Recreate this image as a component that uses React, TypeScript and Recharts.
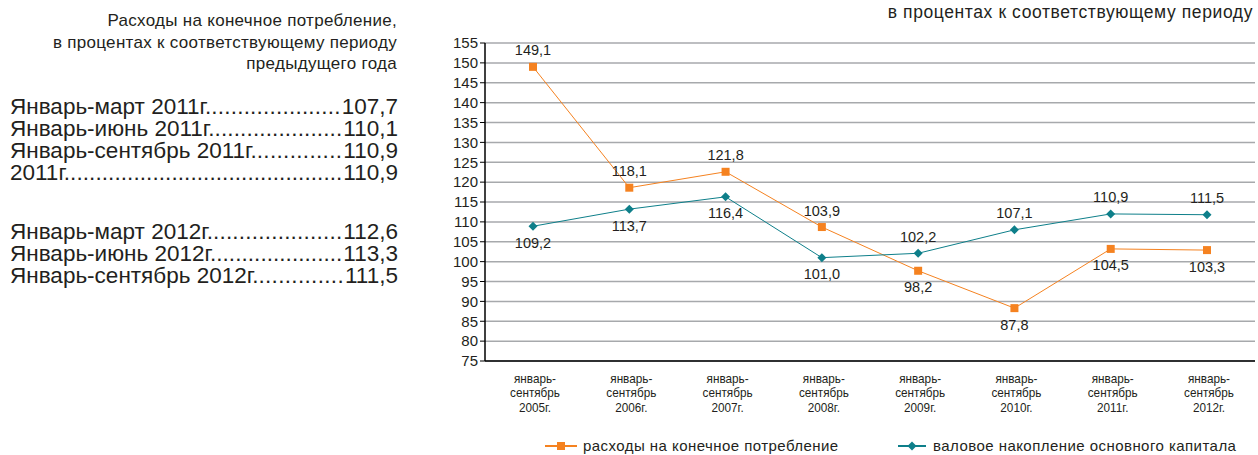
import { LineChart, Line, XAxis, YAxis, CartesianGrid, Legend, LabelList } from "recharts";

const periods = ["2005г.", "2006г.", "2007г.", "2008г.", "2009г.", "2010г.", "2011г.", "2012г."];
const consumption = [149.0, 118.6, 122.6, 108.7, 97.7, 88.3, 103.2, 102.9];
const investment = [108.9, 113.2, 116.3, 101.0, 102.1, 108.0, 112.0, 111.8];
const consumptionLabels = ["149,1", "118,1", "121,8", "103,9", "98,2", "87,8", "104,5", "103,3"];
const investmentLabels = ["109,2", "113,7", "116,4", "101,0", "102,2", "107,1", "110,9", "111,5"];
const consumptionAbove = [true, true, true, true, false, false, false, false];
const investmentAbove = [false, false, false, false, true, true, true, true];
const yTicks = [75, 80, 85, 90, 95, 100, 105, 110, 115, 120, 125, 130, 135, 140, 145, 150, 155];

const rows2011 = [
  ["Январь-март 2011г.", "107,7"],
  ["Январь-июнь 2011г.", "110,1"],
  ["Январь-сентябрь 2011г.", "110,9"],
  ["2011г.", "110,9"],
];
const rows2012 = [
  ["Январь-март 2012г.", "112,6"],
  ["Январь-июнь 2012г.", "113,3"],
  ["Январь-сентябрь 2012г.", "111,5"],
];

const ORANGE = "#f58220";
const TEAL = "#0e7f8a";
const TEXT = "#231f20";
const FONT = "'Liberation Sans', Arial, sans-serif";

const ROW_FONT = 22.5;
const ROW_WIDTH = 388;

let ctx: CanvasRenderingContext2D | null = null;
function textWidth(s: string, size: number) {
  if (!ctx) ctx = document.createElement("canvas").getContext("2d");
  if (!ctx) return s.length * size * 0.55;
  ctx.font = `${size}px "Liberation Sans"`;
  return ctx.measureText(s).width;
}

const data = periods.map((p, i) => ({
  period: p,
  consumption: consumption[i],
  investment: investment[i],
}));

const SquareDot = (props: any) => {
  const { cx, cy } = props;
  if (cx == null || cy == null) return null;
  return <rect x={cx - 4} y={cy - 4} width={8} height={8} fill={ORANGE} />;
};

const DiamondDot = (props: any) => {
  const { cx, cy } = props;
  if (cx == null || cy == null) return null;
  return <polygon points={`${cx},${cy - 4.5} ${cx + 4.5},${cy} ${cx},${cy + 4.5} ${cx - 4.5},${cy}`} fill={TEAL} />;
};

const makeLabel = (texts: string[], above: boolean[]) => (props: any) => {
  const { x, y, index } = props;
  const up = above[index];
  return (
    <text x={x} y={up ? y - 11.5 : y + 21.5} textAnchor="middle" fontSize={14.5} fontFamily={FONT} fill={TEXT}>
      {texts[index]}
    </text>
  );
};

const XTick = (props: any) => {
  const { x, y, payload } = props;
  return (
    <g transform={`translate(${x + 2},${y}) scale(0.87,1)`}>
      <text x={0} y={0} textAnchor="middle" fontSize={13.5} fontFamily={FONT} fill={TEXT}>
        <tspan x={0} dy={14}>январь-</tspan>
        <tspan x={0} dy={14.5}>сентябрь</tspan>
        <tspan x={0} dy={14.5}>{payload.value}</tspan>
      </text>
    </g>
  );
};

const legendText: React.CSSProperties = {
  position: "absolute",
  top: 0,
  lineHeight: "18px",
  fontSize: 15,
  letterSpacing: 0.45,
  whiteSpace: "nowrap",
};

const LegendContent = () => (
  <div style={{ position: "relative", height: 18, fontFamily: FONT, color: TEXT }}>
    <svg style={{ position: "absolute", left: 125, top: 4 }} width={32} height={10}>
      <line x1={0} y1={5} x2={32} y2={5} stroke={ORANGE} strokeWidth={2} />
      <rect x={12} y={1} width={8} height={8} fill={ORANGE} />
    </svg>
    <span style={{ ...legendText, left: 163 }}>расходы на конечное потребление</span>
    <svg style={{ position: "absolute", left: 478, top: 4 }} width={28} height={10}>
      <line x1={0} y1={5} x2={28} y2={5} stroke={TEAL} strokeWidth={2} />
      <polygon points="14,0.5 18.5,5 14,9.5 9.5,5" fill={TEAL} />
    </svg>
    <span style={{ ...legendText, left: 513 }}>валовое накопление основного капитала</span>
  </div>
);

const Row = ({ label, value }: { label: string; value: string }) => {
  const free = ROW_WIDTH - textWidth(label, ROW_FONT) - textWidth(value, ROW_FONT) - 1;
  const dotW = textWidth(".", ROW_FONT);
  const n = Math.max(1, Math.floor(free / dotW));
  const extra = (free - n * dotW) / n;
  return (
    <div style={{ display: "flex", height: 22, lineHeight: "22px", whiteSpace: "nowrap" }}>
      <span>{label}</span>
      <span style={{ letterSpacing: extra }}>{".".repeat(n)}</span>
      <span style={{ marginLeft: "auto" }}>{value}</span>
    </div>
  );
};

export default function App() {
  return (
    <div style={{ position: "absolute", left: 0, top: 0, width: 1258, height: 455, background: "#fff", fontFamily: FONT, color: TEXT, overflow: "hidden" }}>
      <div
        style={{
          position: "absolute",
          right: 1258 - 397,
          top: 10,
          textAlign: "right",
          fontSize: 17,
          letterSpacing: 0.3,
          lineHeight: "21.5px",
          whiteSpace: "nowrap",
        }}
      >
        Расходы на конечное потребление,
        <br />в процентах к соответствующему периоду
        <br />предыдущего года
      </div>
      <div style={{ position: "absolute", left: 10, top: 96, width: ROW_WIDTH, fontSize: ROW_FONT }}>
        {rows2011.map(([l, v]) => (
          <Row key={l} label={l} value={v} />
        ))}
        <div style={{ height: 37 }} />
        {rows2012.map(([l, v]) => (
          <Row key={l} label={l} value={v} />
        ))}
      </div>
      <div style={{ position: "absolute", right: 5, top: 2, fontSize: 17.5, letterSpacing: 0.6, whiteSpace: "nowrap" }}>
        в процентах к соответствующему периоду
      </div>
      <div style={{ position: "absolute", left: 420, top: 0 }}>
        <LineChart width={838} height={455} data={data} margin={{ top: 43, right: 3, left: 0, bottom: 5 }}>
          <CartesianGrid vertical={false} stroke="#a7a9ac" strokeWidth={1.5} />
          <XAxis
            dataKey="period"
            height={71}
            tickLine={false}
            padding={{ left: 48, right: 48 }}
            axisLine={{ stroke: "#000", strokeWidth: 1.5 }}
            tick={<XTick />}
            interval={0}
          />
          <YAxis
            width={65}
            domain={[75, 155]}
            ticks={yTicks}
            interval={0}
            tickSize={5}
            tickMargin={2}
            axisLine={{ stroke: "#000", strokeWidth: 1.5 }}
            tickLine={{ stroke: "#000" }}
            tick={{ fontSize: 15, fill: TEXT, fontFamily: FONT }}
          />
          <Legend
            verticalAlign="bottom"
            height={18}
            content={<LegendContent />}
            wrapperStyle={{ left: 0, width: 838, top: 437, bottom: "auto" }}
          />
          <Line
            type="linear"
            dataKey="consumption"
            stroke={ORANGE}
            strokeWidth={1}
            dot={<SquareDot />}
            activeDot={false}
            isAnimationActive={false}
          >
            <LabelList dataKey="consumption" content={makeLabel(consumptionLabels, consumptionAbove)} />
          </Line>
          <Line
            type="linear"
            dataKey="investment"
            stroke={TEAL}
            strokeWidth={1}
            dot={<DiamondDot />}
            activeDot={false}
            isAnimationActive={false}
          >
            <LabelList dataKey="investment" content={makeLabel(investmentLabels, investmentAbove)} />
          </Line>
        </LineChart>
      </div>
    </div>
  );
}
